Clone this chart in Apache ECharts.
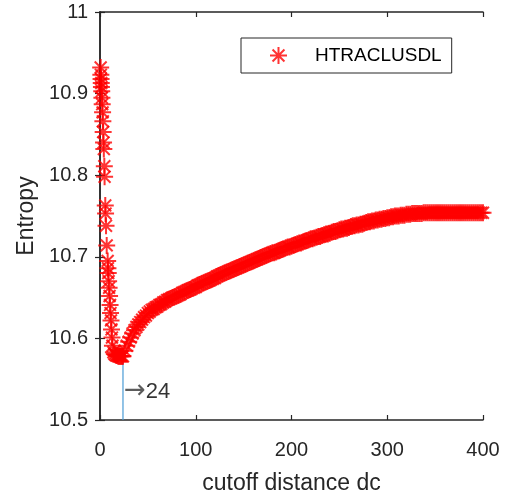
<!DOCTYPE html>
<html>
<head>
<meta charset="utf-8">
<script src="https://cdn.jsdelivr.net/npm/echarts@6/dist/echarts.min.js"></script>
<style>html,body{margin:0;padding:0;background:#fff;}#c{width:510px;height:500px;}</style>
</head>
<body>
<div id="c"></div>
<script>
// Descending branch (cutoff distance dc, entropy)
const descX = [0.7,0.9,1.1,1.3,1.5,1.8,2.0,2.3,2.7,3.0,3.3,3.7,4.0,4.5,4.8,5.5,5.8,6.3,7.0,8.0,8.3,8.6,9.0,9.5,10.0,10.5,11.0,11.5,12.0,12.5,13.0,14,15,16,17,18,19,20,21,22,23];
const descY = [10.932,10.923,10.918,10.913,10.908,10.903,10.895,10.887,10.877,10.866,10.853,10.840,10.832,10.811,10.798,10.763,10.753,10.738,10.714,10.695,10.686,10.680,10.670,10.662,10.652,10.641,10.631,10.622,10.611,10.601,10.591,10.583,10.581,10.580,10.579,10.579,10.578,10.578,10.578,10.578,10.578];
// Rising branch
const riseX = [
  24,26,28,30,32,34,36,38,40,42,
  44,46,48,50,52,54,56,58,60,62,
  64,66,68,70,72,74,76,78,80,82,
  84,86,88,90,92,94,96,98,100,102,
  104,106,108,110,112,114,116,118,120,122,
  124,126,128,130,132,134,136,138,140,142,
  144,146,148,150,152,154,156,158,160,162,
  164,166,168,170,172,174,176,178,180,182,
  184,186,188,190,192,194,196,198,200,202,
  204,206,208,210,212,214,216,218,220,222,
  224,226,228,230,232,234,236,238,240,242,
  244,246,248,250,252,254,256,258,260,262,
  264,266,268,270,272,274,276,278,280,282,
  284,286,288,290,292,294,296,298,300,302,
  304,306,308,310,312,314,316,318,320,322,
  324,326,328,330,332,334,336,338,340,342,
  344,346,348,350,352,354,356,358,360,362,
  364,366,368,370,372,374,376,378,380,382,
  384,386,388,390,392,394,396,398,400];
const riseY = [
  10.578,10.585,10.591,10.596,10.601,10.606,10.610,10.614,10.617,10.620,
  10.623,10.626,10.628,10.631,10.633,10.635,10.636,10.638,10.639,10.641,
  10.642,10.644,10.645,10.647,10.648,10.649,10.650,10.651,10.652,10.653,
  10.654,10.656,10.657,10.658,10.659,10.660,10.661,10.662,10.663,10.665,
  10.666,10.667,10.668,10.669,10.670,10.671,10.672,10.673,10.674,10.676,
  10.677,10.678,10.679,10.680,10.681,10.682,10.683,10.684,10.685,10.686,
  10.687,10.688,10.689,10.690,10.691,10.692,10.693,10.694,10.695,10.696,
  10.697,10.698,10.699,10.700,10.701,10.702,10.703,10.704,10.705,10.705,
  10.706,10.707,10.708,10.709,10.710,10.711,10.712,10.712,10.713,10.714,
  10.715,10.716,10.717,10.717,10.718,10.719,10.720,10.721,10.722,10.722,
  10.723,10.724,10.725,10.725,10.726,10.727,10.728,10.728,10.729,10.730,
  10.731,10.731,10.732,10.733,10.734,10.734,10.735,10.735,10.736,10.737,
  10.738,10.738,10.739,10.739,10.740,10.740,10.741,10.742,10.743,10.743,
  10.744,10.744,10.745,10.745,10.746,10.746,10.747,10.747,10.748,10.748,
  10.749,10.749,10.750,10.750,10.750,10.751,10.751,10.751,10.752,10.752,
  10.752,10.753,10.753,10.753,10.753,10.753,10.753,10.754,10.754,10.754,
  10.754,10.754,10.754,10.754,10.754,10.754,10.754,10.754,10.754,10.754,
  10.754,10.754,10.754,10.754,10.754,10.754,10.754,10.754,10.754,10.754,
  10.754,10.754,10.754,10.754,10.754,10.754,10.754,10.754,10.754];
const minDc = 24;
const minEntropy = 10.578;
const annotY = 10.535;
const seriesName = 'HTRACLUSDL';
const xTicks = [0, 100, 200, 300, 400];
const yTicks = [10.5, 10.6, 10.7, 10.8, 10.9, 11];

const points = [];
descX.forEach((x, i) => points.push([x, descY[i]]));
riseX.forEach((x, i) => points.push([x, riseY[i]]));

const star = 'path://M10,0L10,20M0,10L20,10M3,3L17,17M3,17L17,3';
const axisColor = '#262626';
const font = 'Arial, "Liberation Sans", Helvetica, sans-serif';

const chart = echarts.init(document.getElementById('c'), null, {renderer: 'canvas'});
const commonX = {
  type: 'value', min: xTicks[0], max: xTicks[xTicks.length - 1], interval: 100,
  splitLine: {show: false},
  axisLine: {show: true, lineStyle: {color: axisColor, width: 1.5}},
  axisTick: {show: true, inside: true, length: 5, lineStyle: {color: axisColor, width: 1.2}}
};
const commonY = {
  type: 'value', min: yTicks[0], max: yTicks[yTicks.length - 1], interval: 0.1,
  splitLine: {show: false},
  axisLine: {show: true, lineStyle: {color: axisColor, width: 1.5}},
  axisTick: {show: true, inside: true, length: 5, lineStyle: {color: axisColor, width: 1.2}}
};
chart.setOption({
  animation: false,
  backgroundColor: '#fff',
  grid: {left: 100, right: 27, top: 12, bottom: 77, containLabel: false},
  legend: {
    data: [seriesName], left: 241, top: 38,
    padding: [8, 10, 8, 28], itemWidth: 17, itemHeight: 17,
    icon: star,
    itemStyle: {color: 'transparent', borderColor: '#ff0000', borderWidth: 2},
    borderColor: axisColor, borderWidth: 1, backgroundColor: '#fff', borderRadius: 0,
    textStyle: {fontFamily: font, fontSize: 19, color: '#000', padding: [0, 0, 0, 23]}
  },
  xAxis: [
    Object.assign({}, commonX, {
      position: 'bottom',
      name: 'cutoff distance dc', nameLocation: 'middle', nameGap: 52,
      nameTextStyle: {fontFamily: font, fontSize: 23, color: axisColor},
      axisLabel: {fontFamily: font, fontSize: 20, color: axisColor, margin: 20}
    }),
    Object.assign({}, commonX, {position: 'top', axisLabel: {show: false}})
  ],
  yAxis: [
    Object.assign({}, commonY, {
      position: 'left',
      name: 'Entropy', nameLocation: 'middle', nameGap: 62, nameRotate: 90,
      nameTextStyle: {fontFamily: font, fontSize: 23, color: axisColor},
      axisLabel: {fontFamily: font, fontSize: 20, color: axisColor, margin: 12,
        padding: [4, 0, 0, 0],
        formatter: v => String(Math.round(v * 10) / 10)}
    }),
    Object.assign({}, commonY, {position: 'right', axisLabel: {show: false}})
  ],
  series: [
    {
      name: 'minline', type: 'line', xAxisIndex: 0, yAxisIndex: 0, z: 1,
      data: [[minDc, yTicks[0]], [minDc, minEntropy]],
      symbol: 'none', lineStyle: {color: '#4a9bd6', width: 1.2}, silent: true
    },
    {
      name: seriesName, type: 'scatter', xAxisIndex: 0, yAxisIndex: 0, z: 3,
      data: points, symbol: star, symbolSize: 17, clip: true,
      itemStyle: {color: 'transparent', borderColor: '#ff0000', borderWidth: 2}
    },
    {
      name: 'annot', type: 'scatter', xAxisIndex: 0, yAxisIndex: 0, z: 4,
      data: [[minDc, annotY]], symbolSize: 0, silent: true,
      label: {show: true, position: 'right', distance: 1,
        formatter: '{a|\u2192}{n|' + minDc + '}',
        rich: {
          a: {fontFamily: '"DejaVu Sans"', fontSize: 26, color: '#333'},
          n: {fontFamily: font, fontSize: 22, color: '#000'}
        }}
    }
  ]
});
</script>
</body>
</html>
